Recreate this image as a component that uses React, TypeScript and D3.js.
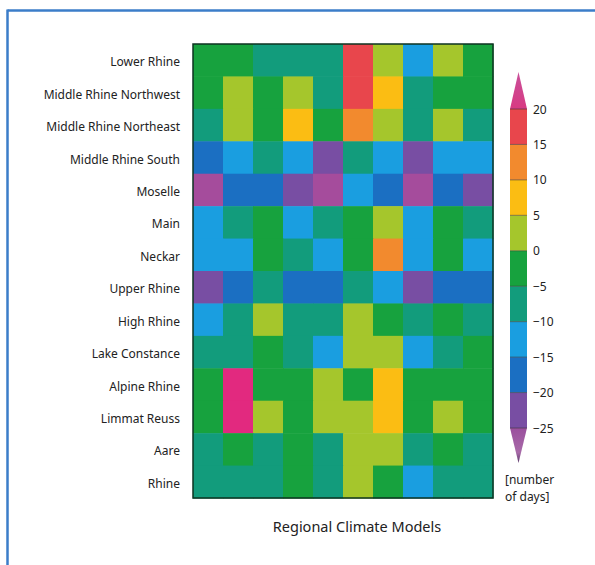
import React from "react";
import * as d3 from "d3";

const regions = [
  "Lower Rhine",
  "Middle Rhine Northwest",
  "Middle Rhine Northeast",
  "Middle Rhine South",
  "Moselle",
  "Main",
  "Neckar",
  "Upper Rhine",
  "High Rhine",
  "Lake Constance",
  "Alpine Rhine",
  "Limmat Reuss",
  "Aare",
  "Rhine",
];

const models = ["RCM1", "RCM2", "RCM3", "RCM4", "RCM5", "RCM6", "RCM7", "RCM8", "RCM9", "RCM10"];

// change in number of days, one row per region, one column per regional climate model
const values: number[][] = [
  [-3, -3, -7, -7, -7, 17, 2, -12, 2, -3],
  [-3, 2, -3, 2, -7, 17, 7, -7, -3, -3],
  [-7, 2, -3, 7, -3, 12, 2, -7, 2, -7],
  [-17, -12, -7, -12, -22, -7, -12, -22, -12, -12],
  [-27, -17, -17, -22, -27, -12, -17, -27, -17, -22],
  [-12, -7, -3, -12, -7, -3, 2, -12, -3, -7],
  [-12, -12, -3, -7, -12, -3, 12, -12, -3, -12],
  [-22, -17, -7, -17, -17, -7, -12, -22, -17, -17],
  [-12, -7, 2, -7, -7, 2, -3, -7, -3, -7],
  [-7, -7, -3, -7, -12, 2, 2, -12, -7, -3],
  [-3, 22, -3, -3, 2, -3, 7, -3, -3, -3],
  [-3, 22, 2, -3, 2, 2, 7, -3, 2, -3],
  [-7, -3, -7, -3, -7, 2, 2, -7, -3, -7],
  [-7, -7, -7, -3, -7, 2, -3, -12, -7, -7],
];

const thresholds = [-25, -20, -15, -10, -5, 0, 5, 10, 15, 20];
const binColors = [
  "#a54c9c",
  "#784ea3",
  "#1b6fc2",
  "#1a9ee0",
  "#129c7c",
  "#17a23e",
  "#a5c62c",
  "#fbbd13",
  "#f28a2e",
  "#e8464c",
  "#e2297f",
];
const tickValues = [20, 15, 10, 5, 0, -5, -10, -15, -20, -25];

const W = 595;
const H = 565;

export default function App() {
  const color = d3.scaleThreshold<number, string>().domain(thresholds).range(binColors);
  const x = d3.scaleBand<string>().domain(models).range([193, 493]);
  const y = d3.scaleBand<string>().domain(regions).range([44, 498]);

  const ly = d3.scaleLinear().domain([-25, 20]).range([428, 109]);
  const lx0 = 510;
  const lw = 17;
  const fmt = (v: number) => (v < 0 ? "\u2212" + Math.abs(v) : String(v));

  const font = "'Noto Sans', 'Open Sans', sans-serif";

  return (
    <div style={{ position: "absolute", left: 0, top: 0 }}>
      <svg width={W} height={H} style={{ display: "block", fontFamily: font }}>
        <defs>
          <linearGradient id="topArrow" x1="0" y1="1" x2="0" y2="0">
            <stop offset="0" stopColor="#d83a82" />
            <stop offset="1" stopColor="#c94f9a" />
          </linearGradient>
          <linearGradient id="botArrow" x1="0" y1="0" x2="0" y2="1">
            <stop offset="0" stopColor="#9a4f9e" />
            <stop offset="0.7" stopColor="#a86aa8" />
            <stop offset="1" stopColor="#5a3a6a" />
          </linearGradient>
        </defs>
        <rect x={0} y={0} width={W} height={H} fill="#fff" />
        {/* frame */}
        <line x1={7.5} y1={10.5} x2={W} y2={10.5} stroke="#3b7dc9" strokeWidth={2.5} />
        <line x1={7.5} y1={9.5} x2={7.5} y2={H} stroke="#3b7dc9" strokeWidth={2.5} />

        {/* cells */}
        {values.map((row, i) =>
          row.map((v, j) => (
            <rect
              key={`${i}-${j}`}
              x={x(models[j])!}
              y={y(regions[i])!}
              width={x.bandwidth() + 0.5}
              height={y.bandwidth() + 0.5}
              fill={color(v)}
            />
          ))
        )}
        <rect
          x={193}
          y={44}
          width={300}
          height={454}
          fill="none"
          stroke="#0d3320"
          strokeWidth={1.5}
        />

        {/* row labels */}
        {regions.map((r) => (
          <text
            key={r}
            x={180}
            y={y(r)! + y.bandwidth() / 2 + 1.5}
            textAnchor="end"
            dominantBaseline="central"
            fontSize={12}
            fill="#222"
          >
            {r}
          </text>
        ))}

        <text x={357} y={526} textAnchor="middle" dominantBaseline="central" fontSize={14.5} fill="#222">
          Regional Climate Models
        </text>

        {/* legend */}
        {binColors.slice(1, -1).map((c, k) => (
          <rect
            key={c}
            x={lx0}
            y={ly(thresholds[k + 1])}
            width={lw}
            height={ly(thresholds[k]) - ly(thresholds[k + 1])}
            fill={c}
          />
        ))}
        <path
          d={`M${lx0},${ly(20)} L${lx0 + lw / 2},${ly(20) - 37} L${lx0 + lw},${ly(20)} Z`}
          fill="url(#topArrow)"
        />
        <path
          d={`M${lx0},${ly(-25)} L${lx0 + lw / 2},${ly(-25) + 35} L${lx0 + lw},${ly(-25)} Z`}
          fill="url(#botArrow)"
        />
        {tickValues.map((t) => (
          <g key={t}>
            <line x1={lx0} x2={lx0 + lw} y1={ly(t)} y2={ly(t)} stroke="#333" strokeOpacity={0.55} strokeWidth={1} />
            <text x={533} y={ly(t)} dominantBaseline="central" fontSize={12} fill="#222">
              {fmt(t)}
            </text>
          </g>
        ))}
        <text x={505} y={479} dominantBaseline="central" fontSize={12} fill="#222">
          [number
        </text>
        <text x={505} y={496} dominantBaseline="central" fontSize={12} fill="#222">
          of days]
        </text>
      </svg>
    </div>
  );
}
